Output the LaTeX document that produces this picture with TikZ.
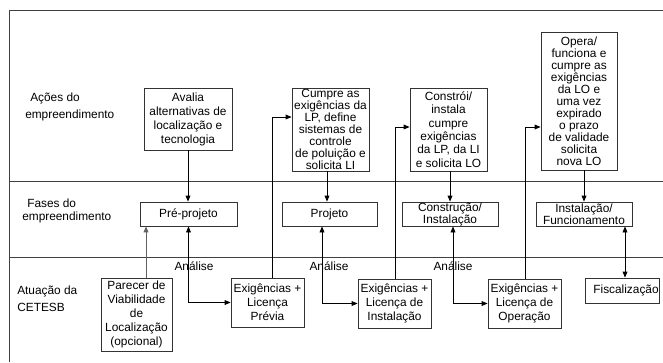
\documentclass[tikz,border=0pt]{standalone}
\usepackage{fontspec}
\setmainfont{Liberation Sans}
\usetikzlibrary{arrows.meta}
\def\pxu{0.75pt}
\begin{document}
\begin{tikzpicture}[x=0.75pt,y=-0.75pt,
  every node/.style={font=\fontsize{8.9}{9}\selectfont},
  bx/.style 2 args={draw=black!80, line width=0.6pt, inner sep=0pt, align=center,
    minimum width=#1*\pxu, minimum height=#2*\pxu},
  wide/.style={font=\fontsize{8.9}{10.5}\selectfont},
  lbl/.style={align=left, anchor=west, inner sep=0pt},
  con/.style={line width=0.6pt, draw=black},
  gcon/.style={line width=0.7pt, draw=black!62},
  rule/.style={line width=0.6pt, draw=black!75},
  tip/.style={-{Triangle[length=4.5pt,width=3.6pt]}},
  tips/.style={{Triangle[length=4.5pt,width=3.6pt]}-{Triangle[length=4.5pt,width=3.6pt]}},
]
\useasboundingbox (0,0) rectangle (663,362);

% frame and dividers
\coordinate (ftl) at (9,10);
\coordinate (ftr) at (663,10);
\coordinate (fbl) at (9,362);
\draw[rule] (fbl) -- (ftl) -- (ftr);
\coordinate (d1l) at (9,181);
\coordinate (d1r) at (663,181);
\coordinate (d2l) at (9,257);
\coordinate (d2r) at (663,257);
\draw[rule] (d1l) -- (d1r);
\draw[rule] (d2l) -- (d2r);

% row labels
\node[lbl, font=\fontsize{8.9}{12.75}\selectfont] (lacoes) at (25,106.5) {\hspace*{3.75pt}Ações do\\empreendimento};
\node[lbl, font=\fontsize{8.9}{9.75}\selectfont] (lfases) at (22,210.5) {\hspace*{3.75pt}Fases do\\empreendimento};
\node[lbl, font=\fontsize{8.9}{12.75}\selectfont] (latua) at (17,298.5) {Atuação da\\CETESB};

% actions
\node[bx={88}{62}, wide] (avalia) at (188,119) {Avalia\\alternativas de\\localização e\\tecnologia};
\node[bx={77}{83}] (cumpre) at (330.5,129.5) {Cumpre as\\exigências da\\LP, define\\sistemas de\\controle\\de poluição e\\solicita LI};
\node[bx={77}{83}, font=\fontsize{8.9}{10}\selectfont] (constroi) at (448.5,129.5) {Constrói/\\instala\\cumpre\\exigências\\da LP, da LI\\e solicita LO};
\node[bx={76}{138}] (opera) at (579,101) {Opera/\\funciona e\\cumpre as\\exigências\\da LO e\\uma vez\\expirado\\o prazo\\de validade\\solicita\\nova LO};

% phases
\node[bx={97}{24}] (pre) at (188.5,214) {Pré-projeto};
\node[bx={95}{24}] (projeto) at (329.5,214) {Projeto};
\node[bx={96}{24}] (constr) at (450,214) {Construção/\\Instalação};
\node[bx={96}{24}] (instf) at (584,214) {Instalação/\\Funcionamento};

% CETESB
\node[bx={71}{73}, wide] (parecer) at (136.5,314.5) {Parecer de\\Viabilidade\\de\\Localização\\(opcional)};
\node[bx={73}{49}, wide] (lp) at (267.5,302.5) {Exigências +\\Licença\\Prévia};
\node[bx={73}{49}, wide] (li) at (394.5,303.5) {Exigências +\\Licença de\\Instalação};
\node[bx={73}{49}, wide] (lo) at (524.5,303.5) {Exigências +\\Licença de\\Operação};
\node[bx={74}{25}] (fisc) at (622,290.5) {\hspace*{6pt}Fiscalização};

% Análise labels
\node[inner sep=0pt] (an1) at (194,266) {Análise};
\node[inner sep=0pt] (an2) at (329,266) {Análise};
\node[inner sep=0pt] (an3) at (453,266) {Análise};

% connectors
\draw[con, tip] (avalia.south) -- (avalia.south |- pre.north);
\draw[gcon, tip] (parecer.north -| 146,0) -- (pre.south -| 146,0);
\draw[con, tips] (pre.south) |- (lp.west);
\draw[con, tip] (lp.north -| 272,0) |- (cumpre.west |- 0,117);
\draw[con, tip] (cumpre.south -| 327,0) -- (projeto.north -| 327,0);
\draw[con, tips] (projeto.south -| 322,0) |- (li.west);
\draw[con, tip] (li.north -| 395,0) |- (constroi.west |- 0,127);
\draw[con, tip] (constroi.south -| 450,0) -- (constr.north -| 450,0);
\draw[con, tips] (constr.south -| 453,0) |- (lo.west);
\draw[con, tip] (lo.north -| 525,0) |- (opera.west |- 0,127);
\draw[con, tip] (opera.south -| 584,0) -- (instf.north -| 584,0);
\draw[con, tips] (instf.south -| 625,0) -- (fisc.north -| 625,0);
\end{tikzpicture}
\end{document}
